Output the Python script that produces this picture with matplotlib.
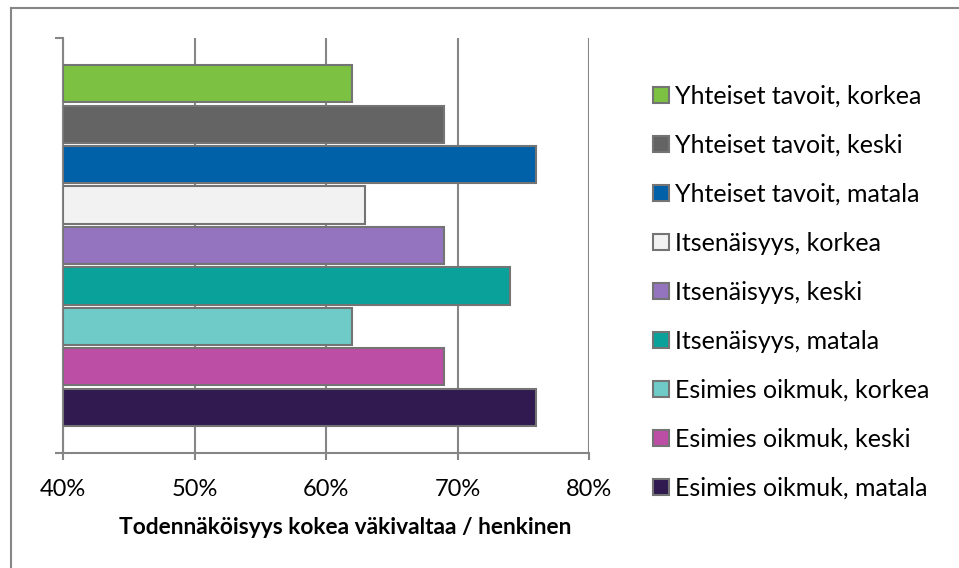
import numpy as np
import matplotlib.pyplot as plt
from matplotlib.lines import Line2D

plt.rcParams['font.family'] = ['Lato', 'DejaVu Sans']

labels = ['Yhteiset tavoit, korkea', 'Yhteiset tavoit, keski', 'Yhteiset tavoit, matala',
          'Itsenäisyys, korkea', 'Itsenäisyys, keski', 'Itsenäisyys, matala',
          'Esimies oikmuk, korkea', 'Esimies oikmuk, keski', 'Esimies oikmuk, matala']
values = [62, 69, 76, 63, 69, 74, 62, 69, 76]
colors = ['#7cc142', '#646464', '#0060a8', '#f2f2f2', '#9474be',
          '#0aa19a', '#6ecbc8', '#bd4ea6', '#301a4f']
xticks = [40, 50, 60, 70, 80]
xlabel = 'Todennäköisyys kokea väkivaltaa / henkinen'

W, H = 959, 568
fig = plt.figure(figsize=(W/100, H/100), dpi=100)
ax = fig.add_axes([63/W, 1-453/H, (589-63)/W, (453-38)/H])

edge = '#747474'
for i in range(len(values)):
    ax.barh(i, values[i]-40, left=40, height=0.92, color=colors[i],
            edgecolor=edge, linewidth=1.5, label=labels[i], zorder=3)

top = -1.13
bot = len(values)-1+1.13
ax.set_ylim(bot, top)
ax.set_xlim(40, 80)
ax.set_xticks(xticks)
ax.set_xticklabels([str(t)+'%' for t in xticks], fontsize=17)
ax.set_yticks([top, bot])
ax.set_yticklabels(['', ''])
ax.tick_params(axis='x', length=5, width=1.5, color='#868686', pad=14)
ax.tick_params(axis='y', length=6, width=1.5, color='#868686')
ax.grid(axis='x', color='#868686', linewidth=1.5, zorder=0)
for s in ['top', 'right']:
    ax.spines[s].set_visible(False)
for s in ['left', 'bottom']:
    ax.spines[s].set_color('#868686')
    ax.spines[s].set_linewidth(1.5)
ax.set_xlabel(xlabel, fontsize=16.4, fontweight='bold')
ax.xaxis.set_label_coords(0.536, -(527-453)/(453-38))
ax.xaxis.label.set_va('center')

leg = ax.legend(loc='center left', bbox_to_anchor=(653/W, 1-292.5/H),
                bbox_transform=fig.transFigure, frameon=False, fontsize=18,
                handlelength=0.64, handleheight=0.64, handletextpad=0.25,
                labelspacing=1.04, borderpad=0, borderaxespad=0)

# outer chart border (left and top only visible)
fig.add_artist(Line2D([11/W, 11/W], [0, 1-8/H], color='#868686', linewidth=1.5))
fig.add_artist(Line2D([11/W, 1], [1-8/H, 1-8/H], color='#868686', linewidth=1.5))

plt.savefig('out.png', dpi=100)
